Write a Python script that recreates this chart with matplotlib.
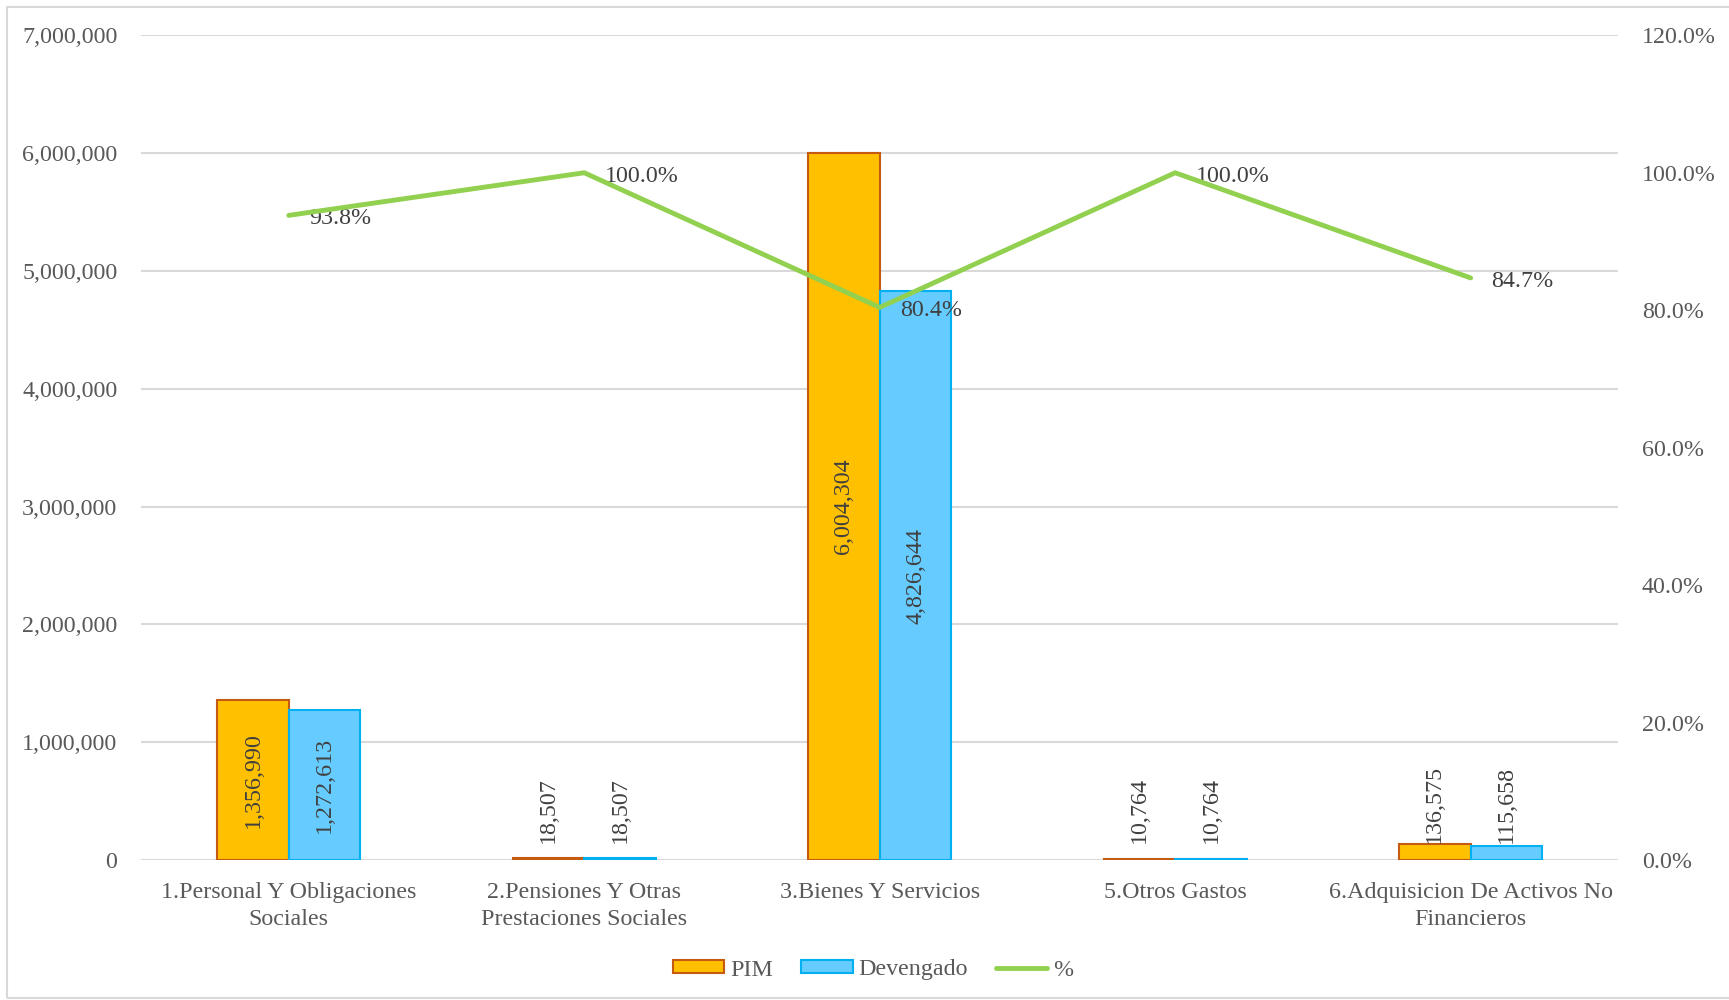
import numpy as np
import matplotlib
matplotlib.use("Agg")
import matplotlib.pyplot as plt
from matplotlib.patches import Rectangle
from matplotlib.ticker import FuncFormatter, MultipleLocator

plt.rcParams['font.family'] = ['Liberation Serif', 'DejaVu Serif']

# Data
categories = ['1.Personal Y Obligaciones\nSociales',
              '2.Pensiones Y Otras\nPrestaciones Sociales',
              '3.Bienes Y Servicios',
              '5.Otros Gastos',
              '6.Adquisicion De Activos No\nFinancieros']
pim = [1356990, 18507, 6004304, 10764, 136575]
devengado = [1272613, 18507, 4826644, 10764, 115658]
pct = [93.8, 100.0, 80.4, 100.0, 84.7]

tick_color = '#595959'
label_color = '#404040'
grid_color = '#d9d9d9'
fs = 17.3

fig = plt.figure(figsize=(17.29, 10), dpi=100)
ax = fig.add_axes([0.0816, 0.14, 0.8544, 0.8247])
ax2 = ax.twinx()

x = np.arange(len(categories))
w = 0.2425

b1 = ax.bar(x - w / 2, pim, w, color='#FFC000', edgecolor='#C55A11', linewidth=1.5, label='PIM', zorder=3)
b2 = ax.bar(x + w / 2, devengado, w, color='#66CCFF', edgecolor='#00B0F0', linewidth=1.5, label='Devengado', zorder=3)

ax.set_xlim(-0.5, len(categories) - 0.5)
ax.set_ylim(0, 7000000)
ax.yaxis.set_major_locator(MultipleLocator(1000000))
ax.yaxis.set_major_formatter(FuncFormatter(lambda v, p: f'{v:,.0f}'))
ax.grid(axis='y', color=grid_color, linewidth=1.5, zorder=0)
ax.set_axisbelow(True)
for s in ax.spines.values():
    s.set_visible(False)
for s in ax2.spines.values():
    s.set_visible(False)
ax.tick_params(axis='y', length=0, pad=17, labelsize=fs, labelcolor=tick_color)
ax.set_xticks(x)
ax.set_xticklabels(categories, fontsize=fs, color=tick_color, linespacing=1.38)
ax.tick_params(axis='x', length=0, pad=15.5)

# bar value labels
for bars in (b1, b2):
    for rect in bars:
        h = rect.get_height()
        cx = rect.get_x() + rect.get_width() / 2
        if h > 1000000:
            ax.text(cx, h / 2, f'{h:,.0f}', rotation=90, ha='center', va='center',
                    fontsize=fs, color=label_color, zorder=5)
        else:
            ax.annotate(f'{h:,.0f}', xy=(cx, 0), xytext=(0, 12), textcoords='offset points',
                        rotation=90, ha='center', va='bottom', fontsize=fs, color=label_color, zorder=5)

# percentage line
line, = ax2.plot(x, pct, color='#92D050', linewidth=3.5, solid_capstyle='round', label='%', zorder=4)
ax2.set_ylim(0, 120)
ax2.yaxis.set_major_locator(MultipleLocator(20))
ax2.yaxis.set_major_formatter(FuncFormatter(lambda v, p: f'{v:.1f}%'))
ax2.tick_params(axis='y', length=0, pad=17, labelsize=fs, labelcolor=tick_color)
for xi, p in zip(x, pct):
    ax2.annotate(f'{p:.1f}%', xy=(xi, p), xytext=(15, -2.5), textcoords='offset points',
                 ha='left', va='center', fontsize=fs, color=label_color)

handles = [b1, b2, line]
fig.legend(handles, ['PIM', 'Devengado', '%'], loc='center', bbox_to_anchor=(0.505, 0.03),
           ncol=3, frameon=False, fontsize=fs, labelcolor=tick_color,
           handlelength=2.15, handleheight=0.45, handletextpad=0.25, columnspacing=1.15)

# chart border
fig.patches.append(Rectangle((0.004, 0.002), 1.2, 0.991, transform=fig.transFigure,
                             fill=False, edgecolor=grid_color, linewidth=1.5))

fig.savefig('out.png', dpi=100)
